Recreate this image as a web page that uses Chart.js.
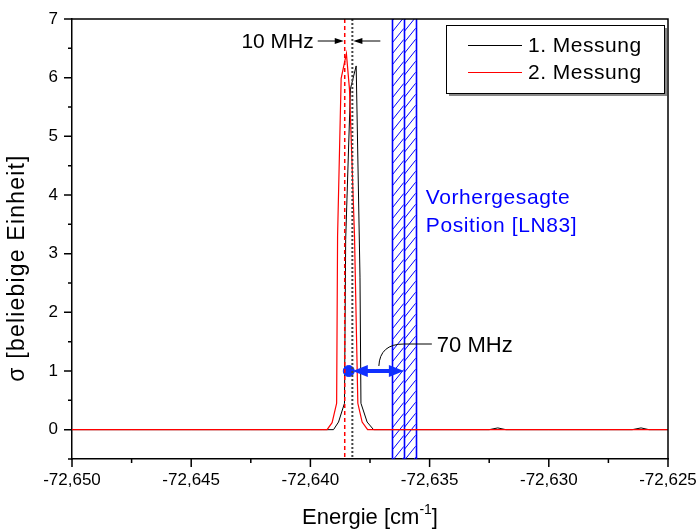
<!DOCTYPE html>
<html>
<head>
<meta charset="utf-8">
<script src="https://cdn.jsdelivr.net/npm/chart.js@4"></script>
<style>
html, body { margin: 0; padding: 0; background: #fff; }
#wrap { width: 699px; height: 530px; }
</style>
</head>
<body>
<div id="wrap"><canvas id="spectrumChart" width="699" height="530"></canvas></div>
<script>
// Energie in cm^-1, labels use the German decimal comma
const xMin = -72.650, xMax = -72.625;
const yMin = -0.5, yMax = 7;

// 1. Messung (black)
const messung1X = [-72.650, -72.6475, -72.645, -72.6425, -72.640, -72.6395, -72.63903, -72.63882, -72.63857, -72.63852,
                   -72.63832, -72.63808, -72.63792, -72.63788, -72.63762, -72.63735, -72.6365, -72.634, -72.6325,
                   -72.63214, -72.6318, -72.630, -72.6275, -72.6265, -72.62613, -72.6258, -72.625];
const messung1Y = [0, 0, 0, 0, 0, 0, 0, 0.13, 0.45, 3.24,
                   5.81, 6.2, 2.6, 0.45, 0.13, 0, 0, 0, 0,
                   0.03, 0, 0, 0, 0, 0.03, 0, 0];

// 2. Messung (red)
const messung2X = [-72.650, -72.6475, -72.645, -72.6425, -72.640, -72.6395, -72.63930, -72.63909, -72.63890, -72.63886,
                   -72.63871, -72.63849, -72.63836, -72.63815, -72.63801, -72.63783, -72.63760, -72.6365, -72.635,
                   -72.6325, -72.630, -72.6275, -72.625];
const messung2Y = [0, 0, 0, 0, 0, 0, 0, 0.12, 0.45, 3.3,
                   5.99, 6.41, 5.8, 3.3, 0.45, 0.13, 0, 0, 0,
                   0, 0, 0, 0];

const peakLine2 = -72.63856;   // red dashed
const peakLine1 = -72.63824;   // grey dotted
const predictedBand = [-72.63657, -72.63608, -72.63558];  // [LN83], two hatched cells
const markerX = [-72.63839];
const markerY = [1];

const fontFamily = '"Liberation Sans", Arial, sans-serif';
const blue = '#0000ff';

const toPoints = (xs, ys) => xs.map((v, i) => ({ x: v, y: ys[i] }));

function arrowHead(ctx, tipX, tipY, dir, len, half) {
    ctx.beginPath();
    ctx.moveTo(tipX, tipY);
    ctx.lineTo(tipX - dir * len, tipY - half);
    ctx.lineTo(tipX - dir * len, tipY + half);
    ctx.closePath();
    ctx.fill();
}

// band, hatch, annotations, frame, ticks, legend, titles
const underlay = {
    id: 'underlay',
    beforeDatasetsDraw(chart) {
        const { ctx, chartArea: a, scales: { x } } = chart;
        ctx.save();
        for (let i = 0; i < predictedBand.length - 1; i++) {
            const l = x.getPixelForValue(predictedBand[i]);
            const r = x.getPixelForValue(predictedBand[i + 1]);
            ctx.save();
            ctx.beginPath();
            ctx.rect(l, a.top, r - l, a.bottom - a.top);
            ctx.clip();
            ctx.strokeStyle = blue;
            ctx.lineWidth = 1;
            ctx.beginPath();
            for (let yy = a.top - 20; yy < a.bottom + 40; yy += 11) {
                ctx.moveTo(l, yy);
                ctx.lineTo(r, yy - (r - l) * 1.25);
            }
            ctx.stroke();
            ctx.restore();
        }
        ctx.strokeStyle = blue;
        ctx.lineWidth = 1.6;
        predictedBand.forEach(v => {
            const px = Math.round(x.getPixelForValue(v)) + 0.5;
            ctx.beginPath();
            ctx.moveTo(px, a.top);
            ctx.lineTo(px, a.bottom);
            ctx.stroke();
        });
        ctx.restore();
    },
    afterDatasetsDraw(chart) {
        const { ctx, chartArea: a, scales: { x, y } } = chart;
        ctx.save();
        // peak markers
        const pRed = x.getPixelForValue(peakLine2);
        const pBlack = x.getPixelForValue(peakLine1);
        ctx.lineWidth = 1.5;
        ctx.strokeStyle = '#ff0000';
        ctx.setLineDash([4, 3]);
        ctx.beginPath(); ctx.moveTo(pRed, a.top); ctx.lineTo(pRed, a.bottom); ctx.stroke();
        ctx.strokeStyle = '#444';
        ctx.lineWidth = 2;
        ctx.setLineDash([2, 2]);
        ctx.beginPath(); ctx.moveTo(pBlack, a.top); ctx.lineTo(pBlack, a.bottom); ctx.stroke();
        ctx.setLineDash([]);

        // 10 MHz arrows
        const ay = 41;
        ctx.strokeStyle = '#000';
        ctx.fillStyle = '#000';
        ctx.lineWidth = 1;
        ctx.beginPath(); ctx.moveTo(pRed - 27, ay); ctx.lineTo(pRed - 6, ay); ctx.stroke();
        arrowHead(ctx, pRed - 1, ay, 1, 9, 3);
        ctx.beginPath(); ctx.moveTo(pBlack + 28, ay); ctx.lineTo(pBlack + 6, ay); ctx.stroke();
        arrowHead(ctx, pBlack + 1, ay, -1, 9, 3);
        ctx.font = '21px ' + fontFamily;
        ctx.textAlign = 'right';
        ctx.textBaseline = 'middle';
        ctx.fillText('10 MHz', pRed - 31, ay + 1);

        // 70 MHz double arrow from the measured peak to the prediction
        const mx = x.getPixelForValue(markerX[0]);
        const my = y.getPixelForValue(markerY[0]);
        const bx = x.getPixelForValue(predictedBand[1]);
        ctx.strokeStyle = '#1030ff';
        ctx.fillStyle = '#1030ff';
        ctx.lineWidth = 4;
        ctx.beginPath(); ctx.moveTo(mx + 14, my); ctx.lineTo(bx - 12, my); ctx.stroke();
        arrowHead(ctx, mx + 4, my, -1, 15, 6);
        arrowHead(ctx, bx, my, 1, 15, 6);

        // leader to 70 MHz label
        ctx.strokeStyle = '#000';
        ctx.lineWidth = 1;
        ctx.beginPath();
        ctx.moveTo(bx + 28, my - 27);
        ctx.lineTo(bx, my - 27);
        ctx.quadraticCurveTo(bx - 24, my - 27, bx - 25, my - 5);
        ctx.stroke();
        ctx.fillStyle = '#000';
        ctx.textAlign = 'left';
        ctx.font = '22px ' + fontFamily;
        ctx.fillText('70 MHz', bx + 33, my - 25);

        // prediction label
        ctx.fillStyle = blue;
        ctx.font = '21px ' + fontFamily;
        ctx.letterSpacing = '0.6px';
        ctx.fillText('Vorhergesagte', x.getPixelForValue(predictedBand[2]) + 10, 198);
        ctx.fillText('Position [LN83]', x.getPixelForValue(predictedBand[2]) + 10, 226);
        ctx.restore();
    },
    afterDraw(chart) {
        const { ctx, chartArea: a, scales: { x, y } } = chart;
        ctx.save();
        ctx.strokeStyle = '#000';
        ctx.lineWidth = 1.5;
        // frame top / right
        ctx.beginPath();
        ctx.moveTo(a.left, a.top); ctx.lineTo(a.right, a.top); ctx.lineTo(a.right, a.bottom);
        ctx.stroke();
        // ticks (major + minor)
        ctx.beginPath();
        for (let k = 0; k <= 10; k++) {
            const px = x.getPixelForValue(xMin + k * 0.0025);
            ctx.moveTo(px, a.bottom);
            ctx.lineTo(px, a.bottom + (k % 2 === 0 ? 8 : 4));
        }
        for (let k = 0; k <= 15; k++) {
            const v = yMin + k * 0.5;
            const py = y.getPixelForValue(v);
            ctx.moveTo(a.left, py);
            ctx.lineTo(a.left - (Number.isInteger(v) ? 8 : 4), py);
        }
        ctx.stroke();

        // legend
        const lx = 446, ly = 25, lw = 218, lh = 68;
        ctx.fillStyle = '#fff';
        ctx.fillRect(lx, ly, lw, lh);
        ctx.strokeStyle = '#888';
        ctx.lineWidth = 2;
        ctx.beginPath();
        ctx.moveTo(lx + lw + 2, ly + 3); ctx.lineTo(lx + lw + 2, ly + lh + 2); ctx.lineTo(lx + 3, ly + lh + 2);
        ctx.stroke();
        ctx.strokeStyle = '#000';
        ctx.lineWidth = 1;
        ctx.strokeRect(lx + 0.5, ly + 0.5, lw, lh);
        const entries = [['1. Messung', '#000'], ['2. Messung', '#ff0000']];
        ctx.font = '21px ' + fontFamily;
        ctx.letterSpacing = '0.5px';
        ctx.textAlign = 'left';
        ctx.textBaseline = 'middle';
        entries.forEach((e, i) => {
            const ey = ly + 20 + i * 27;
            ctx.strokeStyle = e[1];
            ctx.beginPath(); ctx.moveTo(468, ey + 0.5); ctx.lineTo(522, ey + 0.5); ctx.stroke();
            ctx.fillStyle = '#000';
            ctx.fillText(e[0], 528, ey + 1);
        });

        // axis titles
        ctx.letterSpacing = '0px';
        ctx.fillStyle = '#000';
        ctx.textAlign = 'left';
        ctx.textBaseline = 'middle';
        const t1 = 'Energie [cm', t2 = '-1', t3 = ']';
        ctx.font = '22px ' + fontFamily;
        const w1 = ctx.measureText(t1).width, w3 = ctx.measureText(t3).width;
        ctx.font = '14px ' + fontFamily;
        const w2 = ctx.measureText(t2).width;
        const tx = (a.left + a.right) / 2 - (w1 + w2 + w3) / 2;
        const ty = 518;
        ctx.font = '22px ' + fontFamily;
        ctx.fillText(t1, tx, ty);
        ctx.font = '14px ' + fontFamily;
        ctx.fillText(t2, tx + w1, ty - 8);
        ctx.font = '22px ' + fontFamily;
        ctx.fillText(t3, tx + w1 + w2, ty);

        ctx.translate(18, 268);
        ctx.rotate(-Math.PI / 2);
        ctx.textAlign = 'center';
        ctx.font = '23px ' + fontFamily;
        ctx.letterSpacing = '1.2px';
        ctx.fillText('\u03c3 [beliebige Einheit]', 0, 0);
        ctx.restore();
    }
};

const ctx = document.getElementById('spectrumChart').getContext('2d');
new Chart(ctx, {
    type: 'line',
    data: {
        datasets: [{
            label: '2. Messung',
            data: toPoints(messung2X, messung2Y),
            borderColor: '#ff0000',
            borderWidth: 1.2,
            pointRadius: 0,
            tension: 0,
            order: 1
        }, {
            label: '1. Messung',
            data: toPoints(messung1X, messung1Y),
            borderColor: '#000000',
            borderWidth: 1,
            pointRadius: 0,
            tension: 0,
            order: 2
        }, {
            label: 'marker',
            data: toPoints(markerX, markerY),
            showLine: false,
            pointRadius: 5.5,
            pointBackgroundColor: '#1030ff',
            pointBorderColor: '#1030ff',
            order: 0
        }]
    },
    options: {
        responsive: false,
        animation: false,
        devicePixelRatio: 1,
        layout: { padding: { top: 19, right: 31, left: 0, bottom: 0 } },
        plugins: {
            legend: { display: false },
            tooltip: { enabled: false }
        },
        scales: {
            x: {
                type: 'linear',
                min: xMin,
                max: xMax,
                afterFit: s => { s.height = 71; s.paddingLeft = 0; s.paddingRight = 0; },
                afterBuildTicks: s => {
                    s.ticks = [0, 1, 2, 3, 4, 5].map(k => ({ value: xMin + k * 0.005 }));
                },
                ticks: {
                    autoSkip: false,
                    maxRotation: 0,
                    padding: 11,
                    color: '#000',
                    font: { family: fontFamily, size: 17 },
                    callback: v => v.toFixed(3).replace('.', ',')
                },
                grid: { display: false, drawTicks: false },
                border: { display: true, color: '#000', width: 1.5 }
            },
            y: {
                min: yMin,
                max: yMax,
                afterFit: s => { s.width = 72; s.paddingTop = 0; s.paddingBottom = 0; },
                afterBuildTicks: s => {
                    s.ticks = [0, 1, 2, 3, 4, 5, 6, 7].map(v => ({ value: v }));
                },
                ticks: {
                    padding: 14,
                    color: '#000',
                    font: { family: fontFamily, size: 17 },
                    callback: v => String(v)
                },
                grid: { display: false, drawTicks: false },
                border: { display: true, color: '#000', width: 1.5 }
            }
        }
    },
    plugins: [underlay]
});
</script>
</body>
</html>
